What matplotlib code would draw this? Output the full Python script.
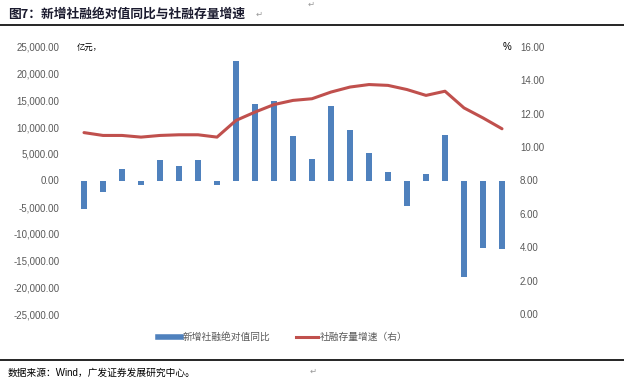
import matplotlib
matplotlib.use("Agg")
import matplotlib.pyplot as plt
from matplotlib.lines import Line2D
import numpy as np

plt.rcParams['font.family'] = ['Liberation Sans', 'Noto Sans CJK SC', 'DejaVu Sans']

# --- data ---
new_tsf_yoy = [-5430, -2060, 2060, -750, 3750, 2800, 3750, -880, 22300, 14400,
               14800, 8400, 4100, 13900, 9550, 5240, 1500, -4800, 1300, 8600,
               -18100, -12550, -12740]
tsf_stock_growth = [10.87, 10.7, 10.7, 10.6, 10.7, 10.74, 10.74, 10.6, 11.6, 12.1,
                    12.55, 12.8, 12.9, 13.3, 13.6, 13.75, 13.7, 13.45, 13.1, 13.35,
                    12.35, 11.75, 11.1]
left_ticks = list(range(-25000, 25001, 5000))
right_ticks = list(range(0, 17, 2))

title = "图7：新增社融绝对值同比与社融存量增速"
source = "数据来源：Wind，广发证券发展研究中心。"
bar_label = "新增社融绝对值同比"
line_label = "社融存量增速（右）"

BLUE = "#4F81BD"
RED = "#C0504D"
GREY = "#595959"
CJK = ['Noto Sans CJK SC', 'DejaVu Sans']

fig = plt.figure(figsize=(6.24, 3.84), dpi=100)
ax = fig.add_axes([74.5 / 624, 70 / 384, 437 / 624, 267 / 384])

x = np.arange(len(new_tsf_yoy))
ax.bar(x, new_tsf_yoy, width=0.3, color=BLUE, zorder=2)
ax.set_xlim(-0.5, len(x) - 0.5)
ax.set_ylim(-25000, 25000)
ax.set_yticks(left_ticks)
ax.set_yticklabels([f"{v:,.2f}" for v in left_ticks], fontsize=7, color=GREY)
ax.set_xticks([])
for s in ax.spines.values():
    s.set_visible(False)
ax.tick_params(axis='y', length=0, pad=11)

ax2 = ax.twinx()
ax2.plot(x, tsf_stock_growth, color=RED, lw=2.2, solid_capstyle='round', zorder=3)
ax2.set_ylim(0, 16)
ax2.set_yticks(right_ticks)
ax2.set_yticklabels([f"{v:.2f}" for v in right_ticks], fontsize=7, color=GREY)
for s in ax2.spines.values():
    s.set_visible(False)
ax2.tick_params(axis='y', length=0, pad=6)

# unit labels
fig.text(77 / 624, 1 - 47 / 384, "亿元，", fontsize=6, family=CJK, va='center')
fig.text(503 / 624, 1 - 47 / 384, "%", fontsize=7, va='center')

# legend
handles = [Line2D([0], [0], color=BLUE, lw=4),
           Line2D([0], [0], color=RED, lw=2.2)]
fig.legend(handles, [bar_label, line_label], loc='center',
           bbox_to_anchor=(283 / 624, 1 - 337 / 384), ncol=2, frameon=False,
           prop={'family': CJK, 'size': 7}, labelcolor=GREY,
           handlelength=2.3, handletextpad=0.2, columnspacing=2.6)

# title and source with rules
fig.text(8 / 624, 1 - 14 / 384, title, fontsize=9.2, fontweight='bold',
         family=CJK, color="#1A1A2E", va='center')
fig.text(256 / 624, 1 - 15 / 384, "↵", fontsize=6, color="#999999", va='center')
fig.text(308 / 624, 1 - 5 / 384, "↵", fontsize=6, color="#999999", va='center')
fig.add_artist(Line2D([0, 1], [1 - 25 / 384, 1 - 25 / 384], color='black', lw=1.2))
fig.add_artist(Line2D([0, 1], [1 - 360 / 384, 1 - 360 / 384], color='black', lw=1.2))
fig.text(8 / 624, 1 - 373 / 384, source, fontsize=7,
         family=['Liberation Sans', 'Noto Sans CJK SC'], va='center')
fig.text(310 / 624, 1 - 372 / 384, "↵", fontsize=6, color="#999999", va='center')

fig.savefig("out.png", dpi=100)
